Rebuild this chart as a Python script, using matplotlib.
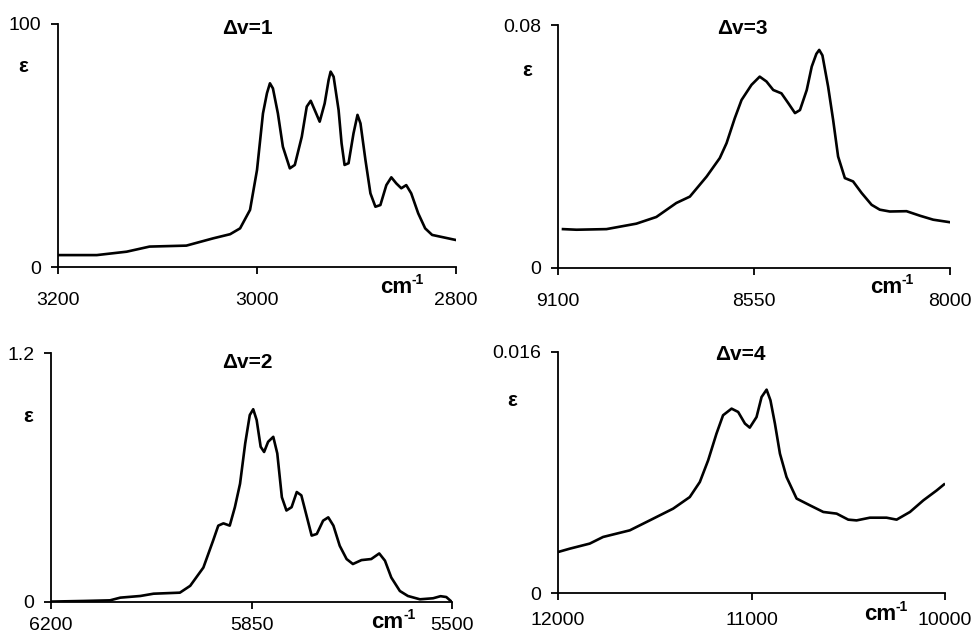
import matplotlib.pyplot as plt

plt.rcParams['font.family'] = ['Liberation Sans', 'DejaVu Sans']

# data set
# dv = 1
wn1 = [3199, 3161, 3131, 3108, 3071, 3044, 3027, 3017, 3007, 3000,
       2994, 2990, 2987, 2984, 2979, 2974, 2967, 2962, 2955, 2950,
       2946, 2942, 2937, 2932, 2928, 2926, 2923, 2918, 2915, 2912,
       2908, 2903, 2899, 2896, 2891, 2886, 2881, 2876, 2870, 2865,
       2860, 2855, 2850, 2845, 2838, 2831, 2824, 2816, 2800]
eps1 = [4.9, 4.9, 6.3, 8.4, 8.8, 11.8, 13.5, 15.9, 23.5, 39.9,
        63.2, 71.5, 75.6, 73.5, 63.2, 49.5, 40.6, 42.0, 53.6, 66.0,
        68.4, 64.6, 59.8, 67.3, 77.0, 80.4, 78.3, 64.6, 50.9, 42.0,
        42.7, 55.0, 62.6, 59.1, 44.0, 30.3, 24.8, 25.5, 33.7, 36.9,
        34.4, 32.4, 33.7, 30.3, 22.1, 15.9, 13.2, 12.5, 11.1]

# dv = 2
wn2 = [6200, 6143, 6097, 6079, 6044, 6021, 5975, 5957, 5934, 5917,
       5908, 5899, 5888, 5879, 5870, 5861, 5853, 5847, 5841, 5834,
       5828, 5821, 5812, 5805, 5797, 5789, 5780, 5771, 5763, 5754,
       5745, 5736, 5725, 5716, 5707, 5696, 5684, 5673, 5658, 5641,
       5627, 5617, 5606, 5591, 5577, 5556, 5533, 5520, 5510, 5501]
eps2 = [0.002, 0.005, 0.008, 0.021, 0.029, 0.040, 0.045, 0.078, 0.166, 0.296,
        0.368, 0.379, 0.368, 0.457, 0.570, 0.764, 0.901, 0.929, 0.877, 0.748,
        0.723, 0.772, 0.796, 0.716, 0.505, 0.441, 0.457, 0.530, 0.514, 0.417,
        0.320, 0.328, 0.392, 0.408, 0.368, 0.271, 0.207, 0.183, 0.202, 0.207,
        0.234, 0.199, 0.118, 0.053, 0.029, 0.013, 0.018, 0.028, 0.024, 0.002]

# dv = 3
wn3 = [9086, 9048, 8964, 8880, 8824, 8768, 8730, 8683, 8646, 8627,
       8604, 8585, 8557, 8534, 8515, 8496, 8473, 8454, 8435, 8421,
       8402, 8388, 8375, 8367, 8358, 8342, 8328, 8314, 8295, 8272,
       8248, 8220, 8197, 8169, 8122, 8084, 8047, 8002]
eps3 = [0.0128, 0.0126, 0.0128, 0.0146, 0.0168, 0.0214, 0.0235, 0.0301, 0.0362, 0.0411,
        0.0493, 0.0553, 0.0603, 0.0630, 0.0614, 0.0586, 0.0575, 0.0543, 0.0510, 0.0520,
        0.0586, 0.0663, 0.0705, 0.0718, 0.0700, 0.0597, 0.0488, 0.0367, 0.0296, 0.0285,
        0.0247, 0.0208, 0.0192, 0.0186, 0.0187, 0.0172, 0.0159, 0.0151]

# dv = 4
wn4 = [12000, 11940, 11836, 11767, 11629, 11526, 11405, 11319, 11267, 11224,
       11181, 11147, 11103, 11069, 11034, 11009, 10974, 10948, 10922, 10902,
       10879, 10853, 10819, 10767, 10698, 10629, 10560, 10500, 10457, 10388,
       10302, 10250, 10181, 10112, 10043, 10005]
eps4 = [0.00272, 0.00294, 0.00328, 0.00372, 0.00416, 0.00482, 0.00560, 0.00637, 0.00737, 0.00881,
        0.01058, 0.01180, 0.01224, 0.01202, 0.01125, 0.01098, 0.01168, 0.01301, 0.01350, 0.01279,
        0.01125, 0.00925, 0.00770, 0.00627, 0.00582, 0.00538, 0.00527, 0.00487, 0.00482, 0.00500,
        0.00500, 0.00487, 0.00538, 0.00615, 0.00681, 0.00721]

titles = ['Δv=1', 'Δv=2', 'Δv=3', 'Δv=4']
xticks = [[3200, 3000, 2800], [6200, 5850, 5500], [9100, 8550, 8000], [12000, 11000, 10000]]
ytop = [100, 1.2, 0.08, 0.016]
ytop_labels = ['100', '1.2', '0.08', '0.016']

W, H = 974, 640
fig = plt.figure(figsize=(W / 100, H / 100), dpi=100)

# layout in pixels: axes box (left, top, right, bottom)
boxes = [(58, 24, 456, 267), (51, 353, 452, 602), (558, 25, 950, 268), (558, 352, 945, 593)]
xpad = [13, 6, 13, 9]
title_pos = [(247, 28), (247, 362), (742, 28), (740, 355)]
eps_pos = [(23, 67), (28, 416), (527, 70), (512, 400)]
cm_pos = [(380, 293), (371, 628), (870, 293), (864, 620)]

series = [(wn1, eps1), (wn2, eps2), (wn3, eps3), (wn4, eps4)]

for i, (x, y) in enumerate(series):
    l, t, r, b = boxes[i]
    ax = fig.add_axes([l / W, 1 - b / H, (r - l) / W, (b - t) / H])
    ax.plot(x, y, color='black', lw=1.9, solid_joinstyle='round')
    ax.set_xlim(xticks[i][0], xticks[i][-1])
    ax.set_ylim(0, ytop[i])
    ax.set_xticks(xticks[i])
    ax.set_xticklabels([str(v) for v in xticks[i]])
    ax.set_yticks([0, ytop[i]])
    ax.set_yticklabels(['0', ytop_labels[i]])
    for s in ['top', 'right']:
        ax.spines[s].set_visible(False)
    for s in ['left', 'bottom']:
        ax.spines[s].set_linewidth(1.3)
    ax.tick_params(direction='out', length=5, width=1.3, labelsize=14)
    ax.tick_params(axis='y', pad=7)
    ax.tick_params(axis='x', pad=xpad[i])

    tx, ty = title_pos[i]
    fig.text(tx / W, 1 - ty / H, titles[i], fontsize=15, fontweight='bold',
             ha='center', va='center')
    ex, ey = eps_pos[i]
    fig.text(ex / W, 1 - ey / H, 'ε', fontsize=15, fontweight='bold',
             ha='center', va='center')
    cx, cy = cm_pos[i]
    fig.text(cx / W, 1 - cy / H, 'cm', fontsize=16, fontweight='bold',
             ha='left', va='baseline')
    fig.text((cx + 32) / W, 1 - (cy - 13) / H, '-1', fontsize=10, fontweight='bold',
             ha='left', va='center')

plt.savefig('out.png', dpi=100)
